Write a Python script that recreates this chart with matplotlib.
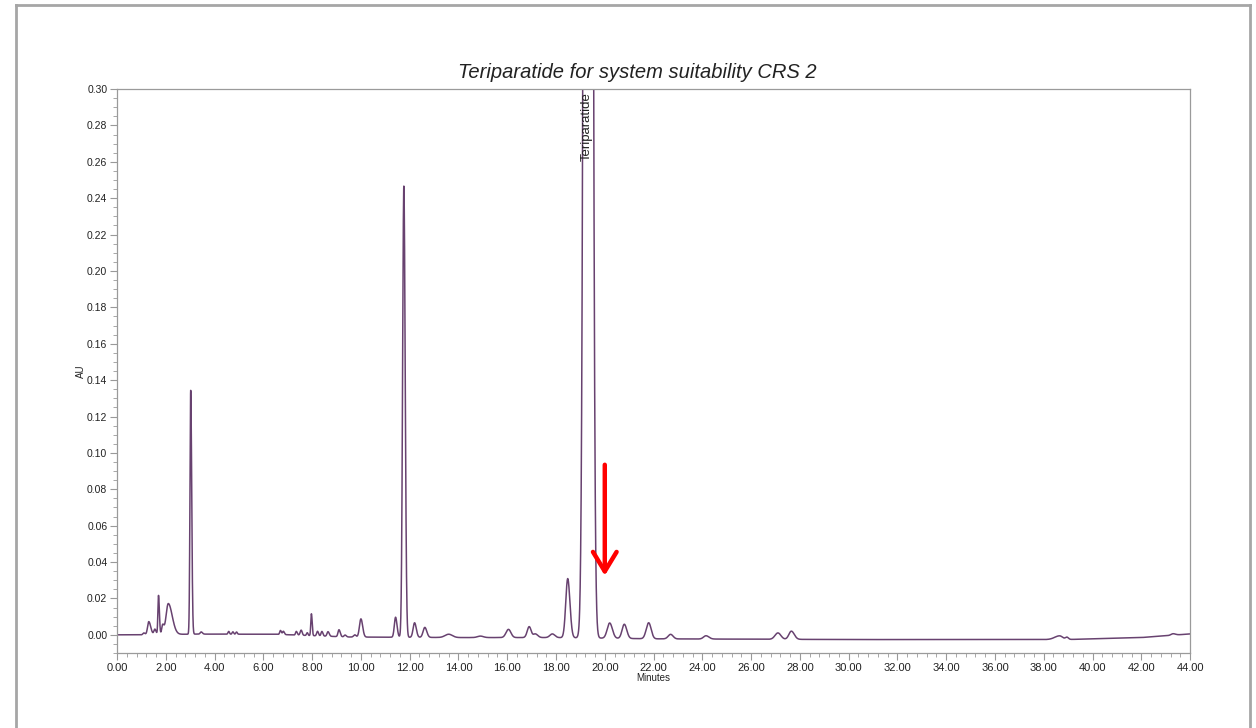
import numpy as np
import matplotlib
matplotlib.use("Agg")
from matplotlib import pyplot as plt
from matplotlib.lines import Line2D
from matplotlib.ticker import MultipleLocator, FormatStrFormatter

plt.rcParams["font.family"] = ["Liberation Sans", "DejaVu Sans"]

# peak table: retention time (min), height above baseline (AU), left/right sigma (min)
peak_times = [1.10, 1.30, 1.55, 1.70, 1.87, 2.10, 3.02, 3.45, 4.58, 4.75, 4.90,
              6.70, 6.82, 7.35, 7.55, 7.80, 7.97, 8.22, 8.40, 8.65, 9.10, 9.35,
              9.75, 10.00, 11.42, 11.76, 12.20, 12.62, 13.60, 14.90, 16.05, 16.90,
              17.15, 17.85, 18.48, 19.32, 20.20, 20.80, 21.80, 22.70, 24.15,
              27.10, 27.65, 38.65, 38.95, 43.30]
peak_heights = [0.0010, 0.0072, 0.0030, 0.0215, 0.0050, 0.0170, 0.1340, 0.0012,
                0.0015, 0.0013, 0.0012, 0.0022, 0.0018, 0.0020, 0.0028, 0.0015,
                0.0120, 0.0025, 0.0025, 0.0025, 0.0038, 0.0010, 0.0012, 0.0100,
                0.0110, 0.2480, 0.0080, 0.0055, 0.0018, 0.0008, 0.0045, 0.0060,
                0.0020, 0.0020, 0.0325, 2.5000, 0.0084, 0.0078, 0.0088, 0.0025,
                0.0018, 0.0035, 0.0045, 0.0020, 0.0012, 0.0008]
sigma_left = [0.04, 0.05, 0.04, 0.025, 0.04, 0.09, 0.03, 0.04, 0.03, 0.03, 0.03,
              0.03, 0.03, 0.03, 0.04, 0.03, 0.025, 0.035, 0.035, 0.04, 0.04, 0.04,
              0.05, 0.06, 0.05, 0.05, 0.06, 0.07, 0.15, 0.12, 0.10, 0.08,
              0.08, 0.10, 0.08, 0.11, 0.10, 0.09, 0.10, 0.10, 0.10,
              0.12, 0.10, 0.20, 0.06, 0.08]
sigma_right = [0.05, 0.08, 0.05, 0.035, 0.05, 0.16, 0.04, 0.05, 0.03, 0.03, 0.03,
               0.04, 0.04, 0.04, 0.04, 0.03, 0.03, 0.04, 0.04, 0.05, 0.05, 0.05,
               0.05, 0.07, 0.06, 0.055, 0.07, 0.08, 0.15, 0.12, 0.10, 0.08,
               0.10, 0.10, 0.09, 0.11, 0.11, 0.10, 0.10, 0.10, 0.12,
               0.12, 0.12, 0.12, 0.06, 0.10]

# baseline drift knots (min, AU)
base_times = [0.0, 1.0, 3.2, 6.5, 9.5, 14.0, 18.0, 22.0, 30.0, 38.0, 39.2, 42.0, 44.0]
base_values = [0.0, 0.0, 0.0004, 0.0003, -0.0012, -0.0015, -0.0015, -0.0022,
               -0.0026, -0.0026, -0.0025, -0.0015, 0.0005]

main_peak = "Teriparatide"
main_peak_time = 19.32

t = np.linspace(0, 44, 8801)
au = np.interp(t, base_times, base_values)
for rt, h, sl, sr in zip(peak_times, peak_heights, sigma_left, sigma_right):
    s = np.where(t < rt, sl, sr)
    au = au + h * np.exp(-0.5 * ((t - rt) / s) ** 2)

fig = plt.figure(figsize=(12.56, 7.28), dpi=100)
ax = fig.add_axes([0.0932, 0.1030, 0.8543, 0.7747])

ax.plot(t, au, color="#684270", linewidth=1.1)

ax.set_xlim(0, 44)
ax.set_ylim(-0.01, 0.30)
ax.xaxis.set_major_locator(MultipleLocator(2))
ax.xaxis.set_minor_locator(MultipleLocator(0.4))
ax.yaxis.set_major_locator(MultipleLocator(0.02))
ax.yaxis.set_minor_locator(MultipleLocator(0.005))
ax.xaxis.set_major_formatter(FormatStrFormatter("%.2f"))
ax.yaxis.set_major_formatter(FormatStrFormatter("%.2f"))
ax.tick_params(axis="both", which="major", length=5, width=0.8, color="#999999",
               labelcolor="#222222", pad=2)
ax.tick_params(axis="both", which="minor", length=3, width=0.6, color="#999999")
ax.tick_params(axis="x", labelsize=8)
ax.tick_params(axis="y", labelsize=7.5)
for sp in ax.spines.values():
    sp.set_color("#9a9a9a")
    sp.set_linewidth(0.9)

ax.set_xlabel("Minutes", fontsize=7, color="#222222", labelpad=0)
ax.set_ylabel("AU", fontsize=7, color="#222222", labelpad=1)
fig.text(637 / 1256, 1 - 72 / 728, "Teriparatide for system suitability CRS 2",
         fontsize=14.5, style="italic", color="#222222", ha="center", va="center")

ax.text(main_peak_time - 0.04, 0.2985, main_peak, rotation=90, ha="center", va="top",
        fontsize=9.5, color="#222222")

# red arrow pointing at the post-peak region
ax.annotate("", xy=(20.0, 0.031), xytext=(20.0, 0.095),
            arrowprops=dict(arrowstyle="->,head_length=1.4,head_width=0.85",
                            lw=3.2, color="#ff0000"))

# page frame
frame = dict(color="#a6a6a6", linewidth=2, transform=fig.transFigure)
fig.add_artist(Line2D([15.5 / 1256, 1249.5 / 1256], [1 - 4.5 / 728, 1 - 4.5 / 728], **frame))
fig.add_artist(Line2D([15.5 / 1256, 15.5 / 1256], [0, 1 - 4.5 / 728], **frame))
fig.add_artist(Line2D([1249.5 / 1256, 1249.5 / 1256], [0, 1 - 4.5 / 728], **frame))

fig.savefig("out.png", dpi=100)
